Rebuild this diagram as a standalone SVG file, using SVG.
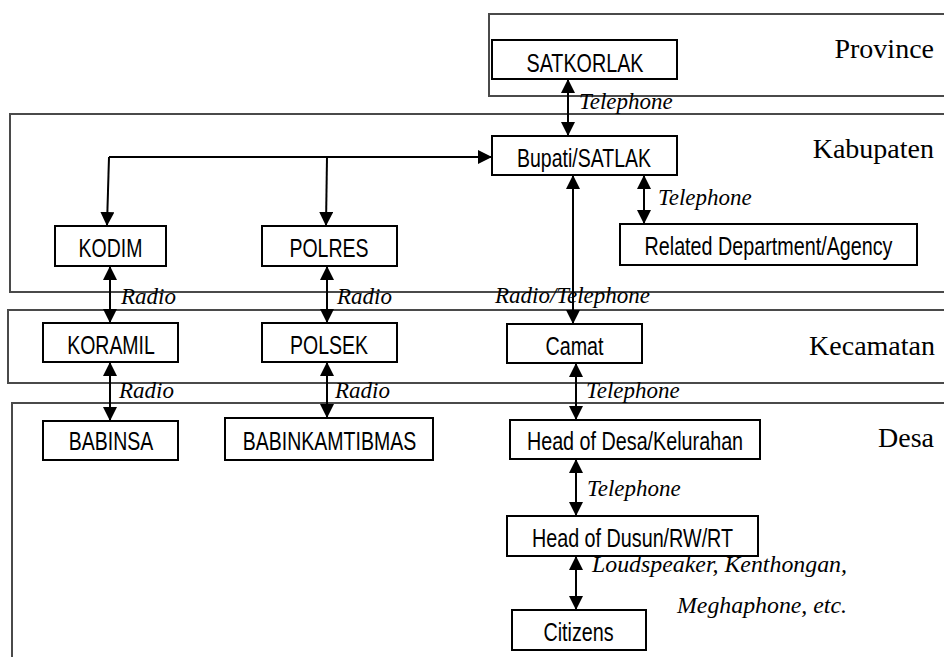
<svg xmlns="http://www.w3.org/2000/svg" width="944" height="657" viewBox="0 0 944 657">
  <style>
    .band { fill: none; stroke: #4a4a4a; stroke-width: 2; }
    .band-label { font-family: "Liberation Serif", "Times New Roman", serif; font-size: 28px; fill: #000; text-anchor: end; }
    .box { fill: #fff; stroke: #000; stroke-width: 2; }
    .name { font-family: "Liberation Sans", Arial, sans-serif; font-size: 25px; fill: #000; text-anchor: middle; }
    .link { fill: none; stroke: #000; stroke-width: 2; }
    .both { marker-start: url(#head); marker-end: url(#head); }
    .one { marker-end: url(#head); }
    .medium { font-family: "Liberation Serif", "Times New Roman", serif; font-style: italic; font-size: 23px; fill: #000; }
  </style>
  <defs>
    <marker id="head" viewBox="0 0 14 14" refX="13" refY="7" markerWidth="14" markerHeight="14" markerUnits="userSpaceOnUse" orient="auto-start-reverse">
      <path d="M0,0 L14,7 L0,14 Z" fill="#000"/>
    </marker>
  </defs>

  <rect width="944" height="657" fill="#fff"/>

  <!-- administrative levels -->
  <g id="levels">
    <rect class="band" x="489" y="14" width="470" height="82"/>
    <rect class="band" x="10" y="114" width="950" height="178"/>
    <rect class="band" x="8" y="310" width="952" height="73"/>
    <rect class="band" x="12" y="403" width="948" height="270"/>
    <text class="band-label" x="934" y="58">Province</text>
    <text class="band-label" x="934" y="158">Kabupaten</text>
    <text class="band-label" x="935" y="355">Kecamatan</text>
    <text class="band-label" x="934" y="447">Desa</text>
  </g>

  <!-- communication links -->
  <g id="connectors">
    <line class="link both" x1="568" y1="80" x2="568" y2="135"/>
    <polyline class="link one" points="109,157 491,157"/>
    <line class="link one" x1="109" y1="157" x2="107" y2="225"/>
    <line class="link one" x1="327" y1="157" x2="326" y2="225"/>
    <line class="link both" x1="644" y1="176" x2="644" y2="223"/>
    <line class="link both" x1="573" y1="176" x2="573" y2="323"/>
    <line class="link both" x1="110" y1="267" x2="110" y2="322"/>
    <line class="link both" x1="327" y1="267" x2="327" y2="322"/>
    <line class="link both" x1="110" y1="363" x2="110" y2="420"/>
    <line class="link both" x1="327" y1="363" x2="327" y2="417"/>
    <line class="link both" x1="576" y1="364" x2="576" y2="419"/>
    <line class="link both" x1="576" y1="460" x2="576" y2="515"/>
    <line class="link both" x1="576" y1="557" x2="576" y2="609"/>
  </g>

  <!-- actors (narrow sans lettering: Arial proportions squeezed horizontally) -->
  <g id="satkorlak">
    <rect class="box" x="492" y="40" width="185" height="39"/>
    <text class="name" transform="translate(585,72) scale(0.79,1)">SATKORLAK</text>
  </g>
  <g id="bupati">
    <rect class="box" x="492" y="136" width="185" height="39"/>
    <text class="name" transform="translate(584,167) scale(0.78,1)">Bupati/SATLAK</text>
  </g>
  <g id="related-department">
    <rect class="box" x="620" y="224" width="297" height="41"/>
    <text class="name" transform="translate(768.5,255) scale(0.79,1)">Related Department/Agency</text>
  </g>
  <g id="kodim">
    <rect class="box" x="55" y="226" width="111" height="40"/>
    <text class="name" transform="translate(110.5,257) scale(0.78,1)">KODIM</text>
  </g>
  <g id="polres">
    <rect class="box" x="262" y="226" width="135" height="40"/>
    <text class="name" transform="translate(329,257) scale(0.78,1)">POLRES</text>
  </g>
  <g id="koramil">
    <rect class="box" x="43" y="323" width="135" height="39"/>
    <text class="name" transform="translate(111,354) scale(0.78,1)">KORAMIL</text>
  </g>
  <g id="polsek">
    <rect class="box" x="262" y="323" width="135" height="39"/>
    <text class="name" transform="translate(329,354) scale(0.78,1)">POLSEK</text>
  </g>
  <g id="camat">
    <rect class="box" x="507" y="324" width="135" height="39"/>
    <text class="name" transform="translate(574.5,355) scale(0.79,1)">Camat</text>
  </g>
  <g id="babinsa">
    <rect class="box" x="43" y="421" width="135" height="39"/>
    <text class="name" transform="translate(111,450) scale(0.78,1)">BABINSA</text>
  </g>
  <g id="babinkamtibmas">
    <rect class="box" x="225" y="418" width="208" height="42"/>
    <text class="name" transform="translate(329.5,450) scale(0.78,1)">BABINKAMTIBMAS</text>
  </g>
  <g id="head-of-desa">
    <rect class="box" x="510" y="420" width="250" height="39"/>
    <text class="name" transform="translate(635,450) scale(0.79,1)">Head of Desa/Kelurahan</text>
  </g>
  <g id="head-of-dusun">
    <rect class="box" x="507" y="516" width="251" height="40"/>
    <text class="name" transform="translate(632.5,547) scale(0.79,1)">Head of Dusun/RW/RT</text>
  </g>
  <g id="citizens">
    <rect class="box" x="512" y="610" width="134" height="40"/>
    <text class="name" transform="translate(578.5,641) scale(0.79,1)">Citizens</text>
  </g>

  <!-- communication media -->
  <g id="media">
    <text class="medium" x="579" y="109">Telephone</text>
    <text class="medium" x="658" y="205">Telephone</text>
    <text class="medium" x="121" y="304">Radio</text>
    <text class="medium" x="337" y="304">Radio</text>
    <text class="medium" x="495" y="303">Radio/Telephone</text>
    <text class="medium" x="119" y="398">Radio</text>
    <text class="medium" x="335" y="398">Radio</text>
    <text class="medium" x="586" y="398">Telephone</text>
    <text class="medium" x="587" y="496">Telephone</text>
    <text class="medium" x="592" y="572" textLength="255" lengthAdjust="spacingAndGlyphs">Loudspeaker, Kenthongan,</text>
    <text class="medium" x="677" y="613" textLength="170" lengthAdjust="spacingAndGlyphs">Meghaphone, etc.</text>
  </g>
</svg>
